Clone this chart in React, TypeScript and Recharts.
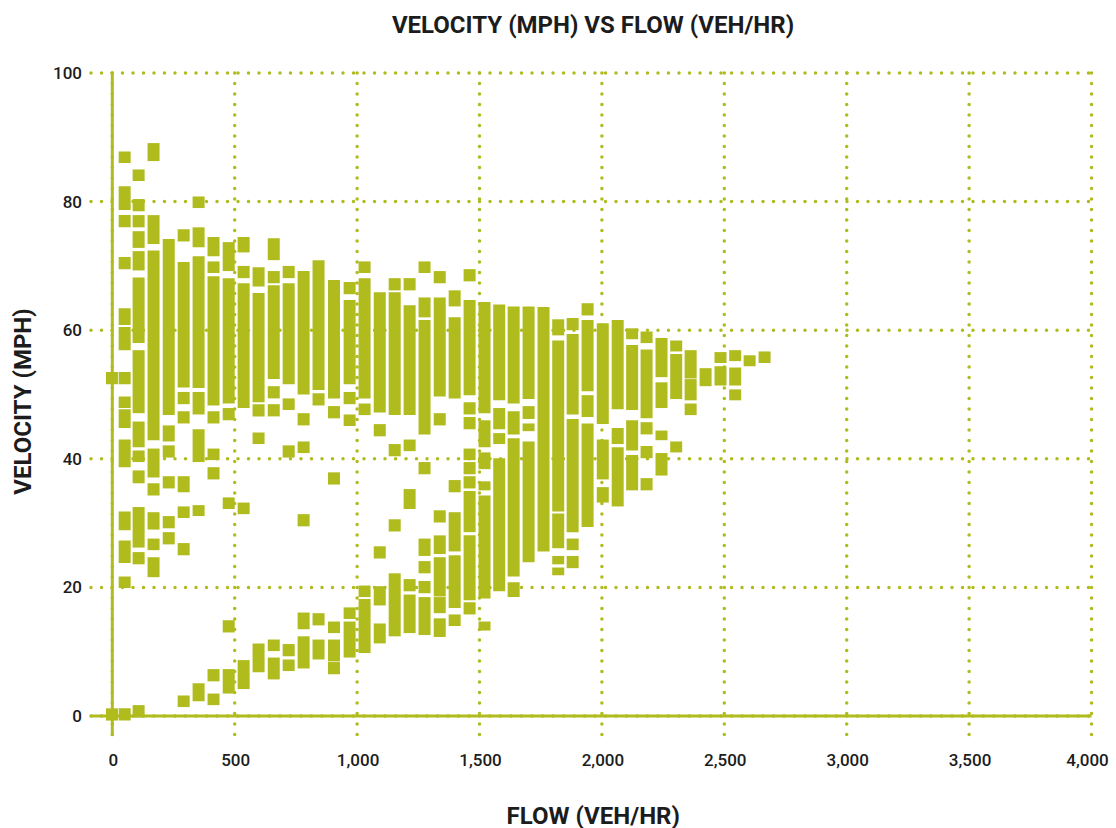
import { BarChart, Bar, XAxis, YAxis, CartesianGrid, ReferenceLine } from "recharts";

const LIME = "#b0bb1d";
const INK = "#1c1c1c";
const FONT = "Roboto, sans-serif";

const flowTicks = [0, 500, 1000, 1500, 2000, 2500, 3000, 3500, 4000];
const velocityTicks = [0, 20, 40, 60, 80, 100];

// flow of each column of marks
const flowColumns = [
  0, 52, 109, 170, 232, 293, 354, 415, 477, 538, 599, 661, 722, 783, 844,
  907, 971, 1032, 1094, 1155, 1216, 1277, 1339, 1400, 1461, 1522, 1582, 1641, 1702, 1763,
  1823, 1882, 1943, 2005, 2066, 2125, 2184, 2245, 2305, 2364, 2425, 2486, 2546, 2605, 2666,
];

// velocity spans [low, high] in each column, same order as flowColumns
const velocitySpans = [
  [[51.6, 53.5], [-0.7, 1.2]],
  [[86.0, 87.8], [78.7, 82.4], [76.0, 77.9], [69.5, 71.4], [60.8, 63.4], [56.9, 60.5], [51.6, 53.5], [47.9, 49.7], [44.8, 47.7], [38.7, 43.0], [28.9, 31.8], [23.8, 27.3], [19.9, 21.7], [-0.7, 1.2]],
  [[83.2, 85.0], [78.5, 80.4], [76.0, 77.9], [72.8, 75.4], [69.3, 72.3], [58.0, 68.2], [47.1, 56.9], [41.8, 45.8], [39.5, 41.3], [36.2, 38.2], [26.2, 32.5], [23.6, 25.5], [-0.2, 1.7]],
  [[86.3, 89.1], [73.4, 77.9], [42.9, 72.4], [37.1, 41.6], [34.3, 36.2], [29.0, 31.7], [25.8, 27.6], [21.6, 24.7]],
  [[46.8, 74.2], [42.7, 45.2], [40.2, 42.1], [35.4, 37.3], [29.2, 31.1], [26.7, 28.6]],
  [[73.8, 75.7], [51.1, 70.6], [48.5, 50.4], [45.5, 47.4], [34.8, 37.3], [30.8, 32.6], [25.0, 26.9], [1.4, 3.2]],
  [[79.0, 80.8], [72.9, 76.0], [51.0, 71.5], [46.9, 50.4], [39.5, 44.6], [31.1, 32.8], [2.3, 5.1]],
  [[71.5, 74.5], [68.9, 70.7], [48.3, 68.4], [45.5, 47.4], [39.8, 41.6], [36.8, 38.7], [5.4, 7.3], [1.7, 3.5]],
  [[69.2, 73.7], [48.6, 68.1], [46.0, 47.9], [32.2, 34.0], [13.0, 14.9], [3.5, 7.3]],
  [[72.1, 74.5], [68.1, 70.0], [47.9, 67.3], [31.4, 33.2], [4.2, 8.7]],
  [[66.8, 69.8], [48.8, 65.8], [46.6, 48.5], [42.3, 44.1], [6.8, 11.3]],
  [[70.9, 74.3], [67.3, 69.2], [52.4, 67.0], [49.4, 51.3], [46.6, 48.5], [10.1, 11.9], [5.7, 9.1]],
  [[68.1, 70.0], [51.6, 67.3], [47.6, 49.4], [40.2, 42.1], [9.3, 11.2], [7.0, 8.8]],
  [[50.0, 69.2], [45.2, 47.1], [40.9, 42.7], [29.5, 31.4], [13.5, 16.1], [7.4, 12.4]],
  [[50.7, 70.9], [48.3, 50.2], [14.1, 16.0], [8.8, 11.9]],
  [[49.4, 67.8], [46.3, 48.2], [36.0, 37.9], [12.9, 14.7], [8.5, 11.9], [6.5, 8.4]],
  [[65.6, 67.5], [51.6, 64.7], [48.5, 50.4], [45.1, 46.9], [15.1, 16.9], [9.1, 14.7]],
  [[68.9, 70.7], [49.4, 68.1], [46.8, 48.6], [18.5, 20.3], [9.8, 18.2]],
  [[47.2, 65.9], [43.5, 45.4], [24.5, 26.4], [17.2, 20.2], [11.3, 14.4]],
  [[66.2, 68.1], [46.8, 65.9], [40.4, 42.3], [28.7, 30.6], [12.4, 22.2]],
  [[66.2, 68.1], [46.8, 63.9], [41.2, 43.0], [32.2, 35.3], [19.4, 21.3], [12.9, 18.9]],
  [[68.9, 70.7], [62.0, 65.1], [43.8, 61.6], [37.6, 39.5], [24.9, 27.6], [22.2, 24.1], [19.1, 21.0], [12.6, 18.5]],
  [[67.3, 69.2], [49.7, 65.1], [45.2, 47.1], [30.1, 32.0], [25.2, 28.1], [18.6, 24.7], [16.0, 18.5], [12.3, 15.2]],
  [[63.7, 66.2], [49.4, 62.0], [34.8, 36.7], [25.6, 31.7], [16.8, 25.0], [14.0, 15.8]],
  [[67.6, 69.5], [49.9, 64.7], [46.9, 48.8], [44.6, 46.5], [39.8, 41.6], [37.6, 39.5], [35.4, 37.3], [28.6, 35.0], [18.0, 28.1], [15.8, 17.7]],
  [[47.1, 64.4], [41.8, 46.0], [38.4, 41.0], [35.1, 36.5], [18.3, 34.3], [13.3, 14.7]],
  [[49.1, 64.0], [44.6, 47.9], [42.3, 44.0], [19.4, 40.1]],
  [[48.6, 63.7], [43.8, 47.4], [21.7, 43.2], [18.5, 20.8]],
  [[49.3, 63.7], [46.2, 48.2], [44.3, 45.5], [23.9, 42.7]],
  [[25.6, 63.6]],
  [[59.2, 61.7], [31.8, 58.4], [26.1, 31.5], [23.6, 24.9], [21.9, 23.1]],
  [[60.0, 61.9], [46.9, 59.4], [28.6, 46.2], [25.8, 27.6], [23.0, 24.9]],
  [[62.3, 64.2], [50.5, 61.6], [46.5, 49.9], [29.4, 45.5]],
  [[45.4, 61.1], [36.8, 43.0], [33.2, 35.6]],
  [[47.7, 61.6], [42.3, 44.8], [32.6, 41.8]],
  [[58.6, 60.3], [47.6, 57.7], [41.3, 46.0], [35.1, 40.6]],
  [[58.0, 59.8], [46.3, 57.0], [43.8, 45.7], [40.1, 42.0], [35.1, 37.0]],
  [[52.7, 58.8], [47.9, 51.9], [42.9, 44.4], [37.4, 40.9]],
  [[56.7, 58.4], [49.3, 56.3], [41.0, 42.7]],
  [[52.5, 56.9], [49.1, 52.4], [46.8, 48.6]],
  [[51.3, 54.1]],
  [[54.9, 56.6], [51.4, 54.4]],
  [[55.2, 56.9], [51.4, 54.2], [49.1, 50.8]],
  [[54.4, 56.1]],
  [[54.9, 56.7]],
];

const chartData = flowColumns.flatMap((flow, i) =>
  velocitySpans[i].map((span) => ({ flow, span }))
);

const tickStyle = { fontSize: 17, fill: INK, fontFamily: FONT, fontWeight: 500 };
const labelStyle = { fontSize: 24, fill: INK, fontFamily: FONT, fontWeight: 700 };

// last label sits a little inside the 4,000 grid line
function FlowTick({ x, y, payload }: any) {
  const shift = payload.value === 4000 ? -4 : 1;
  return (
    <text x={x + shift} y={y} dy={12} textAnchor="middle" {...tickStyle}>
      {payload.value.toLocaleString("en-US")}
    </text>
  );
}

export default function App() {
  return (
    <div style={{ position: "absolute", left: 0, top: 0, width: 1116, height: 828, background: "#fff" }}>
      <div
        style={{
          position: "absolute",
          left: 293,
          width: 600,
          top: 12,
          lineHeight: "26px",
          textAlign: "center",
          fontFamily: FONT,
          fontWeight: 700,
          fontSize: 24,
          color: INK,
        }}
      >
        VELOCITY (MPH) VS FLOW (VEH/HR)
      </div>
      <BarChart
        width={1116}
        height={828}
        data={chartData}
        barSize={12}
        margin={{ top: 73, right: 24.5, bottom: 0, left: 0 }}
      >
        <CartesianGrid
          stroke={LIME}
          strokeWidth={3.5}
          strokeDasharray="0 10.5"
          strokeLinecap="round"
          horizontalValues={velocityTicks}
          verticalValues={flowTicks}
        />
        <XAxis
          type="number"
          dataKey="flow"
          domain={[-87, 4000]}
          ticks={flowTicks}
          interval={0}
          axisLine={false}
          tickLine={false}
          tick={FlowTick}
          tickMargin={12}
          height={92}
          label={{ value: "FLOW (VEH/HR)", position: "insideBottom", offset: 0, style: labelStyle, dx: 2, dy: -4 }}
        />
        <YAxis
          type="number"
          domain={[-3.1, 100]}
          ticks={velocityTicks}
          interval={0}
          axisLine={false}
          tickLine={false}
          tick={tickStyle}
          tickMargin={3}
          width={91}
          label={{ value: "VELOCITY (MPH)", angle: -90, position: "insideLeft", offset: 22, dy: -3, style: { ...labelStyle, textAnchor: "middle" } }}
        />
        <ReferenceLine x={0} stroke={LIME} strokeWidth={3} />
        <ReferenceLine y={0} stroke={LIME} strokeWidth={3} />
        <Bar dataKey="span" fill={LIME} isAnimationActive={false} />
      </BarChart>
    </div>
  );
}
